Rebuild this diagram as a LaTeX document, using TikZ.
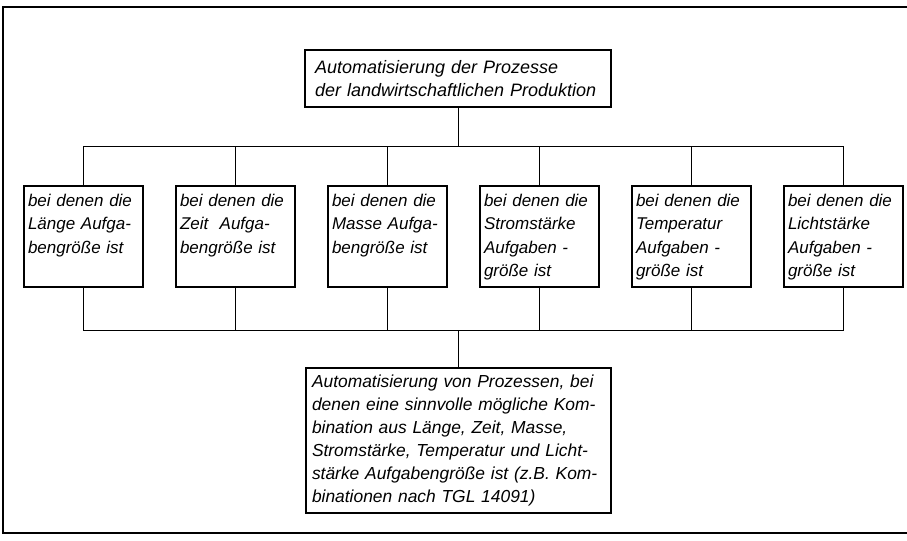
\documentclass[tikz,border=0pt]{standalone}
\usepackage{fontspec}
\setmainfont{Liberation Sans}
\usetikzlibrary{positioning}

\begin{document}
\begin{tikzpicture}[
  x=0.5pt, y=-0.5pt,
  node distance=10mm and 15.5pt,
  kasten/.style={rectangle,draw,line width=1pt,align=left,font=\itshape\fontsize{9}{11.2}\selectfont},
  feld/.style={kasten,font=\itshape\fontsize{8.5}{11.7}\selectfont,text width=55pt,inner xsep=2.25pt,inner ysep=3.25pt,text height=7pt,text depth=37pt},
  linie/.style={line width=0.5pt}
]
  \useasboundingbox (0,0) rectangle (907,541);
  % Rahmen
  \draw[line width=0.8pt] (907,7) -- (3,7) -- (3,533) -- (907,533);

  \node[kasten,text width=143pt,inner xsep=5pt,minimum height=28.5pt] (oben) at (458,78.5) {Automatisierung der Prozesse\\der landwirtschaftlichen Produktion};

  \node[feld] (laenge) at (83,236.5) {bei denen die\\Länge Aufga-\\bengröße ist};
  \node[feld,right=of laenge] (zeit) {bei denen die\\Zeit\ \ Aufga-\\bengröße ist};
  \node[feld,right=of zeit] (masse) {bei denen die\\Masse Aufga-\\bengröße ist};
  \node[feld,right=of masse] (strom) {bei denen die\\Stromstärke\\Aufgaben -\\größe ist};
  \node[feld,right=of strom] (temp) {bei denen die\\Temperatur\\Aufgaben -\\größe ist};
  \node[feld,right=of temp] (licht) {bei denen die\\Lichtstärke\\Aufgaben -\\größe ist};

  \node[kasten,font=\itshape\fontsize{8.7}{11.5}\selectfont,text width=146pt,inner xsep=3.25pt,minimum height=72.5pt] (unten) at (458,440.5) {Automatisierung von Prozessen, bei\\denen eine sinnvolle mögliche Kom-\\bination aus Länge, Zeit, Masse,\\Stromstärke, Temperatur und Licht-\\stärke Aufgabengröße ist (z.B. Kom-\\binationen nach TGL 14091)};

  \coordinate (verteiler) at (oben |- 0,146);
  \coordinate (sammler) at (oben |- 0,330);

  \draw[linie] (oben) -- (verteiler);
  \foreach \n in {laenge,zeit,masse,strom,temp,licht} {
    \draw[linie] (verteiler) -| (\n);
    \draw[linie] (\n) |- (sammler);
  }
  \draw[linie] (sammler) -- (unten);
\end{tikzpicture}
\end{document}
